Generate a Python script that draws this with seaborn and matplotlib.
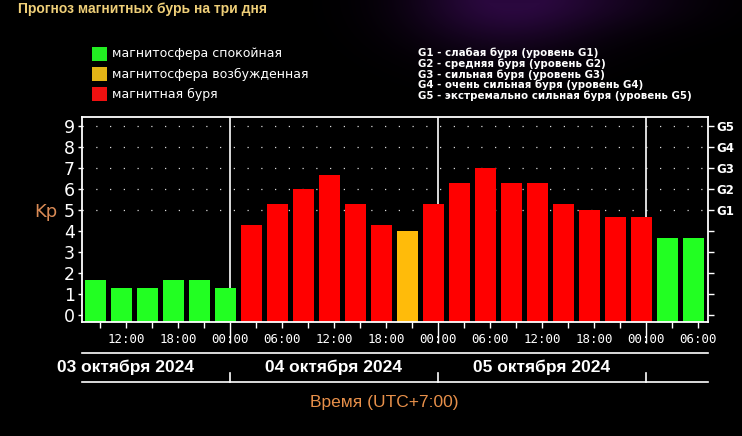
import numpy as np
import pandas as pd
import matplotlib
matplotlib.use("Agg")
import matplotlib.pyplot as plt
import matplotlib.transforms as mtransforms
from matplotlib.patches import Rectangle
import seaborn as sns

# ---------------- data ----------------
title = "Прогноз магнитных бурь на три дня"
# start hour of each 3-hour interval, counted from 03.10.2024 00:00 (UTC+7)
interval_start = [7, 10, 13, 16, 19, 22, 25, 28, 31, 34, 37, 40,
                  43, 46, 49, 52, 55, 58, 61, 64, 67, 70, 73, 76]
kp_values = [1.67, 1.33, 1.33, 1.67, 1.67, 1.33,
             4.33, 5.33, 6.00, 6.67, 5.33, 4.33,
             4.00, 5.33, 6.33, 7.00, 6.33, 6.33,
             5.33, 5.00, 4.67, 4.67, 3.67, 3.67]
status = (["calm"] * 6 + ["storm"] * 6 + ["active"] +
          ["storm"] * 9 + ["calm"] * 2)
status_labels = ["магнитосфера спокойная", "магнитосфера возбужденная", "магнитная буря"]
status_keys = ["calm", "active", "storm"]
bar_colors = {"calm": "#22ff22", "active": "#ffbb0a", "storm": "#ff0000"}
legend_colors = ["#22ee22", "#e2b416", "#f01010"]
g_levels = [5, 6, 7, 8, 9]
g_names = ["G1", "G2", "G3", "G4", "G5"]
g_texts = ["G1 - слабая буря (уровень G1)",
           "G2 - средняя буря (уровень G2)",
           "G3 - сильная буря (уровень G3)",
           "G4 - очень сильная буря (уровень G4)",
           "G5 - экстремально сильная буря (уровень G5)"]
day_labels = ["03 октября 2024", "04 октября 2024", "05 октября 2024"]
day_noon = [12, 36, 60]
day_bounds = [24, 48, 72]
label_hours = [12, 18, 24, 30, 36, 42, 48, 54, 60, 66, 72, 78]
minor_hours = list(range(9, 79, 3))
x_title = "Время (UTC+7:00)"

df = pd.DataFrame({"hour": [h + 1.5 for h in interval_start],
                   "kp": kp_values, "status": status})

# ---------------- figure ----------------
W, H = 742, 436
fig = plt.figure(figsize=(W / 100, H / 100), dpi=100)
fig.patch.set_facecolor("black")

# purple haze background
bg = fig.add_axes([0, 0, 1, 1], zorder=-10)
bg.axis("off")
yy, xx = np.mgrid[0:H, 0:W]
g1 = np.exp(-((xx - 505) / 95.0) ** 2 - ((yy - 0) / 50.0) ** 2)
g2 = np.exp(-((xx - 620) / 90.0) ** 2 - ((yy - 0) / 30.0) ** 2) * 0.3
g = np.clip(g1 + g2, 0, 1)
img = np.zeros((H, W, 3))
img[..., 0] = g * 42 / 255
img[..., 1] = g * 8 / 255
img[..., 2] = g * 62 / 255
bg.imshow(img, aspect="auto", extent=[0, 1, 0, 1])
bg.set_xlim(0, 1); bg.set_ylim(0, 1)

ax = fig.add_axes([82 / W, (H - 322) / H, 626 / W, 205 / H])
ax.set_facecolor("black")

sns.barplot(data=df, x="hour", y="kp", hue="status", palette=bar_colors,
            native_scale=True, dodge=False, width=0.8, saturation=1,
            legend=False, linewidth=0, ax=ax)

ylo, yhi = -0.31, 9.45
ax.set_ylim(ylo, yhi)
ax.set_xlim(6.94, 79.17)
for p in ax.patches:
    h = p.get_height()
    p.set_y(ylo)
    p.set_height(h - ylo)
    p.set_zorder(2)

# dotted G-level grid lines and day separators
for lv in g_levels:
    ax.axhline(lv, color="white", lw=0.9, ls=(0, (1, 10)), alpha=0.85, zorder=0.5)
for d in day_bounds:
    ax.axvline(d, color="white", lw=1.2, zorder=0.5)

for s in ax.spines.values():
    s.set_color("white")
    s.set_linewidth(1.3)

# y axis (left)
ax.set_yticks(range(10))
ax.set_yticklabels([str(i) for i in range(10)])
ax.tick_params(axis="y", colors="white", labelcolor="white", labelsize=12.5,
               direction="out", length=3, width=1, pad=2)
ax.set_ylabel("")

# x axis
ax.set_xticks(label_hours)
ax.set_xticklabels([f"{h % 24:02d}:00" for h in label_hours],
                   family=["DejaVu Sans Mono"])
ax.set_xticks(minor_hours, minor=True)
ax.tick_params(axis="x", which="both", colors="white", labelcolor="white",
               direction="out", length=4, width=1)
ax.tick_params(axis="x", which="major", labelsize=9, pad=4)
ax.set_xlabel("")
for t in ax.xaxis.get_major_ticks():
    if t.get_loc() in day_bounds:
        t.tick1line.set_markersize(15)

# right axis with G levels
ax2 = ax.twinx()
ax2.set_ylim(ylo, yhi)
ax2.set_yticks(range(10))
ax2.set_yticklabels([""] * 5 + g_names, fontweight="bold")
ax2.tick_params(axis="y", colors="white", labelcolor="white", labelsize=8.5,
                direction="out", length=4, width=1, pad=2)
for s in ax2.spines.values():
    s.set_visible(False)

# date rows below the axis
trans = mtransforms.blended_transform_factory(ax.transData, ax.transAxes)
ax.plot([0, 1], [-0.150, -0.150], transform=ax.transAxes, color="white",
        lw=1.2, clip_on=False)
ax.plot([0, 1], [-0.292, -0.292], transform=ax.transAxes, color="white",
        lw=1.2, clip_on=False)
for d in day_bounds:
    ax.plot([d, d], [-0.292, -0.25], transform=trans, color="white",
            lw=1.2, clip_on=False)
for lab, hx in zip(day_labels, day_noon):
    ax.text(hx, -0.221, lab, transform=trans, ha="center", va="center",
            color="white", fontsize=12.5, fontweight="bold",
            family=["Liberation Sans", "DejaVu Sans"])

fig.text(384 / W, 1 - 402 / H, x_title, ha="center", va="center",
         color="#e8904a", fontsize=12.5,
         family=["Liberation Sans", "DejaVu Sans"])
fig.text(46 / W, 1 - 212 / H, "Kp", ha="center", va="center",
         color="#d98a55", fontsize=13)

# title
fig.text(18 / W, 1 - 9 / H, title, ha="left", va="center", color="#efcf78",
         fontsize=10, fontweight="bold",
         family=["Liberation Sans", "DejaVu Sans"])

# status legend
for i, (lab, col) in enumerate(zip(status_labels, legend_colors)):
    yc = 54 + 20 * i
    fig.add_artist(Rectangle((92 / W, 1 - (yc + 7) / H), 15 / W, 14 / H,
                             transform=fig.transFigure, facecolor=col,
                             edgecolor="none"))
    fig.text(112 / W, 1 - yc / H, lab, ha="left", va="center",
             color="white", fontsize=9)

# G legend (one multi-line block)
fig.text(418 / W, 1 - 74.5 / H, "\n".join(g_texts), ha="left", va="center",
         color="white", fontsize=7.4, fontweight="bold", linespacing=1.02,
         family=["DejaVu Sans"])

fig.savefig("out.png", dpi=100, facecolor="black")
